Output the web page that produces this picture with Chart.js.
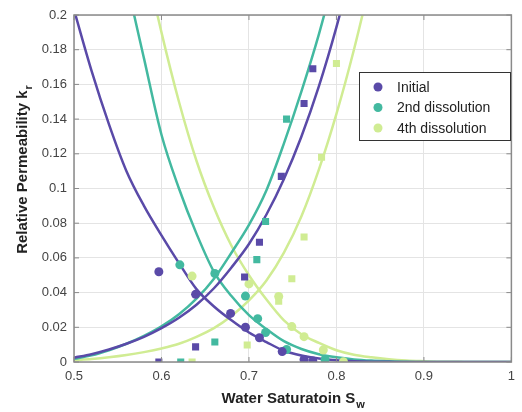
<!DOCTYPE html>
<html>
<head>
<meta charset="utf-8">
<script src="https://cdn.jsdelivr.net/npm/chart.js@4.4.1/dist/chart.umd.min.js"></script>
<style>
  html, body { margin: 0; padding: 0; background: #fff; }
  #wrap { width: 522px; height: 412px; position: relative; }
</style>
</head>
<body>
<div id="wrap"><canvas id="krChart"></canvas></div>
<script>
//////////////////////* Data *////////////////////////////
let seriesNames = ["Initial", "2nd dissolution", "4th dissolution"];

// measured oil relative permeability (circles)
let initOilSw = [0.597, 0.639, 0.679, 0.696, 0.712, 0.738, 0.763, 0.773];
let initOilKr = [0.052, 0.039, 0.028, 0.020, 0.014, 0.006, 0.0015, 0.0006];
let diss2OilSw = [0.621, 0.661, 0.696, 0.710, 0.719, 0.743, 0.787];
let diss2OilKr = [0.056, 0.051, 0.038, 0.025, 0.017, 0.0072, 0.0015];
let diss4OilSw = [0.635, 0.700, 0.734, 0.749, 0.763, 0.785, 0.808];
let diss4OilKr = [0.0495, 0.045, 0.0378, 0.0204, 0.0146, 0.0069, 0.0002];

// measured water relative permeability (squares)
let initWatSw = [0.597, 0.639, 0.695, 0.712, 0.737, 0.763, 0.773];
let initWatKr = [0.0, 0.0087, 0.049, 0.069, 0.107, 0.149, 0.169];
let diss2WatSw = [0.622, 0.661, 0.709, 0.719, 0.743];
let diss2WatKr = [0.0, 0.0115, 0.059, 0.081, 0.140];
let diss4WatSw = [0.635, 0.698, 0.734, 0.749, 0.763, 0.783, 0.800];
let diss4WatKr = [0.0, 0.0098, 0.035, 0.048, 0.072, 0.118, 0.172];

// fitted curves
let fitSw = [0.50, 0.52, 0.54, 0.56, 0.58, 0.60, 0.62, 0.64, 0.66, 0.68, 0.70, 0.72, 0.74,
             0.76, 0.78, 0.80, 0.82, 0.84, 0.86, 0.88, 0.90, 0.92, 0.94, 0.96, 0.98, 1.00];
let fitInitKro = [0.203, 0.168, 0.137, 0.110, 0.090, 0.073, 0.057, 0.042, 0.032, 0.024, 0.017, 0.0115, 0.0065,
                  0.0037, 0.0020, 0.0010, 0.0005, 0.0002, 0.0001, 0, 0, 0, 0, 0, 0, 0];
let fitInitKrw = [0.0025, 0.0045, 0.0072, 0.0105, 0.0145, 0.0195, 0.0255, 0.0330, 0.0425, 0.0545, 0.0680, 0.0850, 0.1055,
                  0.1300, 0.1590, 0.1930, 0.232, 0.275, null, null, null, null, null, null, null, null];
let fitDiss2Kro = [0.40, 0.33, 0.27, 0.220, 0.175, 0.131, 0.100, 0.074, 0.052, 0.038, 0.027, 0.019, 0.012,
                   0.0075, 0.0045, 0.0027, 0.0015, 0.0008, 0.0004, 0.0001, 0, 0, 0, 0, 0, 0];
let fitDiss2Krw = [0.0018, 0.0038, 0.0068, 0.0105, 0.0150, 0.0205, 0.0275, 0.0365, 0.0480, 0.0630, 0.0790, 0.0990, 0.126,
                   0.156, 0.189, 0.227, 0.267, null, null, null, null, null, null, null, null, null];
let fitDiss4Kro = [0.48, 0.41, 0.345, 0.285, 0.235, 0.190, 0.150, 0.116, 0.089, 0.067, 0.050, 0.036, 0.024,
                   0.016, 0.011, 0.0068, 0.0042, 0.0027, 0.0016, 0.0009, 0.0005, 0.0002, 0.0001, 0, 0, 0];
let fitDiss4Krw = [0.0010, 0.0017, 0.0027, 0.0040, 0.0057, 0.0078, 0.0105, 0.0145, 0.0195, 0.0265, 0.0355, 0.0470, 0.0630,
                   0.0840, 0.1110, 0.1430, 0.1800, 0.222, 0.267, null, null, null, null, null, null, null];

//////////////////////* Styles *////////////////////////////
let seriesColors = ["#5a4aa8", "#43b9a0", "#d0ec93"];
let axisColor = "#8a8a8a";
let textColor = "#444";
let primaryFont = "'Liberation Sans', Arial, sans-serif";

function pts(xs, ys) {
    return xs.map(function (x, i) { return { x: x, y: ys[i] }; });
}

function markerSet(label, xs, ys, color, style) {
    return {
        label: label,
        data: pts(xs, ys),
        showLine: false,
        pointStyle: style,
        pointRadius: style === "rect" ? 5 : 4.5,
        pointBackgroundColor: color,
        pointBorderWidth: 0,
    };
}

function curveSet(label, ys, color) {
    return {
        label: label,
        data: pts(fitSw, ys),
        showLine: true,
        borderColor: color,
        borderWidth: 2.5,
        pointRadius: 0,
        cubicInterpolationMode: "monotone",
        spanGaps: false,
    };
}

//////////////////////* Frame, titles and legend *////////////////////////////
let framePlugin = {
    id: "frame",
    afterDraw: function (chart) {
        let ctx = chart.ctx;
        let a = chart.chartArea;
        let xs = chart.scales.x;
        let ys = chart.scales.y;
        ctx.save();
        // box + inward ticks
        ctx.strokeStyle = axisColor;
        ctx.lineWidth = 1.5;
        ctx.strokeRect(a.left, a.top, a.right - a.left, a.bottom - a.top);
        ctx.lineWidth = 1;
        ctx.beginPath();
        xs.ticks.forEach(function (t) {
            let px = xs.getPixelForValue(t.value);
            ctx.moveTo(px, a.bottom); ctx.lineTo(px, a.bottom - 5);
            ctx.moveTo(px, a.top); ctx.lineTo(px, a.top + 5);
        });
        ys.ticks.forEach(function (t) {
            let py = ys.getPixelForValue(t.value);
            ctx.moveTo(a.left, py); ctx.lineTo(a.left + 5, py);
            ctx.moveTo(a.right, py); ctx.lineTo(a.right - 5, py);
        });
        ctx.stroke();

        // axis titles with subscripts
        ctx.fillStyle = "#222";
        ctx.textBaseline = "alphabetic";
        let main = "Water Saturatoin S";
        ctx.font = "bold 15px " + primaryFont;
        let w1 = ctx.measureText(main).width;
        ctx.font = "bold 11px " + primaryFont;
        let w2 = ctx.measureText("w").width;
        let cx = (a.left + a.right) / 2;
        let x0 = cx - (w1 + w2) / 2;
        ctx.font = "bold 15px " + primaryFont;
        ctx.textAlign = "left";
        ctx.fillText(main, x0, 403);
        ctx.font = "bold 11px " + primaryFont;
        ctx.fillText("w", x0 + w1 + 1, 408);

        ctx.save();
        ctx.translate(27, 170);
        ctx.rotate(-Math.PI / 2);
        let ymain = "Relative Permeability k";
        ctx.font = "bold 15px " + primaryFont;
        let v1 = ctx.measureText(ymain).width;
        ctx.font = "bold 11px " + primaryFont;
        let v2 = ctx.measureText("r").width;
        let y0 = -(v1 + v2) / 2;
        ctx.font = "bold 15px " + primaryFont;
        ctx.fillText(ymain, y0, 0);
        ctx.font = "bold 11px " + primaryFont;
        ctx.fillText("r", y0 + v1 + 1, 5);
        ctx.restore();

        // legend
        let lx = 359, ly = 72, lw = 151, lh = 68;
        ctx.fillStyle = "#fff";
        ctx.fillRect(lx, ly, lw, lh);
        ctx.strokeStyle = "#333";
        ctx.lineWidth = 1;
        ctx.strokeRect(lx + 0.5, ly + 0.5, lw, lh);
        ctx.font = "14px " + primaryFont;
        ctx.textBaseline = "middle";
        seriesNames.forEach(function (name, i) {
            let ry = ly + 15 + i * 20.5;
            ctx.fillStyle = seriesColors[i];
            ctx.beginPath();
            ctx.arc(lx + 19, ry, 4.5, 0, Math.PI * 2);
            ctx.fill();
            ctx.fillStyle = "#222";
            ctx.fillText(name, lx + 38, ry + 1);
        });
        ctx.restore();
    },
};

//////////////////////* Chart *////////////////////////////
function relPermChart() {
    let ctx = document.getElementById("krChart");
    let datasets = [
        markerSet(seriesNames[0], initOilSw, initOilKr, seriesColors[0], "circle"),
        markerSet(seriesNames[0], initWatSw, initWatKr, seriesColors[0], "rect"),
        markerSet(seriesNames[1], diss2OilSw, diss2OilKr, seriesColors[1], "circle"),
        markerSet(seriesNames[1], diss2WatSw, diss2WatKr, seriesColors[1], "rect"),
        markerSet(seriesNames[2], diss4OilSw, diss4OilKr, seriesColors[2], "circle"),
        markerSet(seriesNames[2], diss4WatSw, diss4WatKr, seriesColors[2], "rect"),
        curveSet(seriesNames[0], fitInitKro, seriesColors[0]),
        curveSet(seriesNames[0], fitInitKrw, seriesColors[0]),
        curveSet(seriesNames[1], fitDiss2Kro, seriesColors[1]),
        curveSet(seriesNames[1], fitDiss2Krw, seriesColors[1]),
        curveSet(seriesNames[2], fitDiss4Kro, seriesColors[2]),
        curveSet(seriesNames[2], fitDiss4Krw, seriesColors[2]),
    ];
    let config = {
        type: "scatter",
        data: { datasets: datasets },
        options: {
            responsive: true,
            maintainAspectRatio: false,
            animation: false,
            layout: { padding: { left: 0, right: 5, top: 15, bottom: 0 } },
            plugins: {
                legend: { display: false },
                tooltip: { enabled: false },
            },
            scales: {
                x: {
                    min: 0.5,
                    max: 1,
                    afterFit: function (s) { s.height = 50; },
                    ticks: {
                        stepSize: 0.1,
                        color: textColor,
                        padding: 7,
                        font: { family: primaryFont, size: 13 },
                        callback: function (v) { return String(Number(v.toFixed(2))); },
                    },
                    grid: { color: "#e4e4e4", drawTicks: false },
                    border: { display: false },
                },
                y: {
                    min: 0,
                    max: 0.2,
                    afterFit: function (s) { s.width = 74; },
                    ticks: {
                        stepSize: 0.02,
                        color: textColor,
                        padding: 7,
                        font: { family: primaryFont, size: 13 },
                        callback: function (v) { return String(Number(v.toFixed(2))); },
                    },
                    grid: { color: "#e4e4e4", drawTicks: false },
                    border: { display: false },
                },
            },
        },
        plugins: [framePlugin],
    };
    let chart = new Chart(ctx, config);
}

relPermChart();
</script>
</body>
</html>
